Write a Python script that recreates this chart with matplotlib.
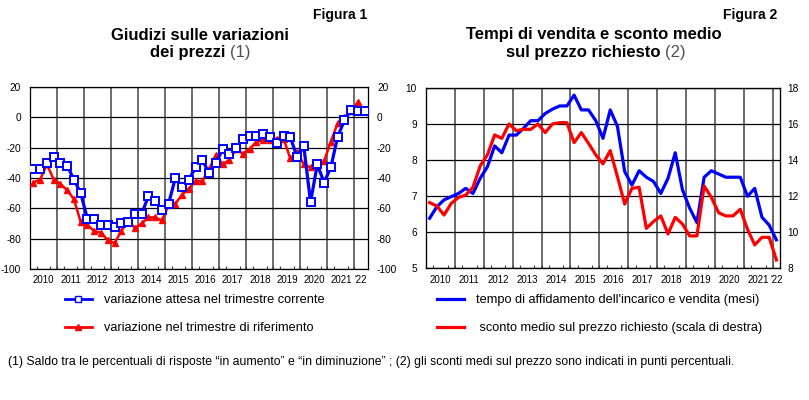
import numpy as np
import matplotlib
matplotlib.use('Agg')
import matplotlib.pyplot as plt
from matplotlib.lines import Line2D

plt.rcParams['font.family'] = ['Liberation Sans', 'DejaVu Sans']
plt.rcParams['axes.unicode_minus'] = False

years = ['2010', '2011', '2012', '2013', '2014', '2015', '2016', '2017',
         '2018', '2019', '2020', '2021', "'22"]

# Figura 1: saldo risposte (quarterly, from 2010 Q1)
attesa = [-34, -34, -30, -26, -30, -32, -41, -50, -67, -67,
          -71, -71, -72, -70, -69, -64, -64, -52, -55, -61,
          -57, -40, -46, -41, -33, -28, -37, -30, -21, -24,
          -20, -14, -12, -12, -11, -13, -17, -12, -13, -26,
          -19, -56, -31, -43, -33, -13, -2, 5, 4, 4]
riferimento = [-43, -41, -31, -41, -44, -48, -54, -69, -71, -75,
               -76, -81, -83, -75, -68, -73, -70, -66, -66, -68,
               -58, -57, -51, -47, -42, -42, -34, -25, -31, -28,
               -21, -24, -21, -16, -15, -15, -14, -14, -27, -23,
               -31, -33, -31, -29, -16, -4, 0, 4, 10]

# Figura 2: tempi di vendita (mesi) e sconto medio (%)
tempo = [6.39, 6.71, 6.90, 6.99, 7.08, 7.22, 7.08, 7.50, 7.82, 8.40,
         8.21, 8.70, 8.70, 8.89, 9.10, 9.10, 9.30, 9.42, 9.51, 9.51,
         9.81, 9.40, 9.40, 9.10, 8.61, 9.40, 8.94, 7.69, 7.31, 7.71,
         7.53, 7.41, 7.08, 7.50, 8.21, 7.18, 6.67, 6.27, 7.53, 7.71,
         7.62, 7.53, 7.53, 7.53, 7.00, 7.22, 6.42, 6.20, 5.79]
sconto = [11.65, 11.46, 10.96, 11.61, 11.94, 12.07, 12.50, 13.69, 14.30, 15.41,
          15.22, 16.02, 15.65, 15.72, 15.72, 16.02, 15.54, 16.02, 16.09, 16.09,
          14.98, 15.54, 14.94, 14.30, 13.80, 14.54, 13.09, 11.57, 12.44, 12.50,
          10.22, 10.60, 10.91, 9.91, 10.83, 10.46, 9.80, 9.80, 12.57, 11.94,
          11.09, 10.91, 10.91, 11.28, 10.17, 9.30, 9.72, 9.72, 8.46]

BLUE = '#0000ff'
RED = '#ff0000'


def qx(vals):
    # quarter centres, starting from 2010 Q1
    return 2010 + (np.arange(len(vals)) + 0.5) / 4


def setup(ax, xmax):
    ax.set_xlim(2010, xmax)
    for yr in range(2011, 2023):
        ax.axvline(yr, color='#606060', lw=1.3, zorder=0)
    ax.yaxis.grid(True, color='black', lw=0.9)
    ax.set_axisbelow(True)
    ax.set_xticks([2010.5 + i for i in range(12)] + [(2022 + xmax) / 2])
    ax.set_xticklabels(years)
    ax.set_xticks(np.arange(2010.25, xmax, 0.25), minor=True)
    ax.tick_params(axis='x', which='major', length=0, labelsize=7, pad=4.5)
    ax.tick_params(axis='x', which='minor', direction='in', length=2.2,
                   width=0.8, color='#404040')
    ax.tick_params(axis='y', length=0, labelsize=7.3)
    for s in ax.spines.values():
        s.set_linewidth(0.9)


fig = plt.figure(figsize=(8.09, 4.0), dpi=100)

# ---- Figura 1
ax1 = fig.add_axes([30 / 809, 1 - 269 / 400, 338 / 809, 182 / 400])
setup(ax1, 2022.5)
ax1.set_ylim(-100, 20)
ax1.set_yticks(range(-100, 21, 20))
ax1.tick_params(axis='y', labelleft=True, labelright=True, pad=6.5)
ax1.plot(qx(riferimento), riferimento, color=RED, lw=1.8, marker='^',
         ms=4.5, mec=RED, mfc=RED, zorder=3)
ax1.plot(qx(attesa), attesa, color=BLUE, lw=2.3, marker='s', ms=5.5,
         mfc='white', mec=BLUE, mew=1.4, zorder=4)

# ---- Figura 2
ax2 = fig.add_axes([426 / 809, 1 - 268.3 / 400, 354 / 809, 180 / 400])
setup(ax2, 2022.25)
ax2.set_ylim(5, 10)
ax2.set_yticks(range(5, 11))
ax2.tick_params(axis='y', pad=6.5)
ax2r = ax2.twinx()
ax2r.set_ylim(8, 18)
ax2r.set_yticks(range(8, 19, 2))
ax2r.tick_params(axis='y', length=0, labelsize=7.3, pad=5.5)
ax2.plot(qx(tempo), tempo, color=BLUE, lw=2.3, zorder=4)
ax2r.plot(qx(sconto), sconto, color=RED, lw=2.3, zorder=3)

# ---- titles
fig.text(367 / 809, 1 - 15 / 400, 'Figura 1', ha='right', va='center',
         fontsize=10, fontweight='bold')
fig.text(777 / 809, 1 - 15 / 400, 'Figura 2', ha='right', va='center',
         fontsize=10, fontweight='bold')
fig.text(200 / 809, 1 - 35 / 400, 'Giudizi sulle variazioni', ha='center',
         va='center', fontsize=12, fontweight='bold')
fig.text(150 / 809, 1 - 52 / 400, 'dei prezzi', ha='left',
         va='center', fontsize=12, fontweight='bold')
fig.text(230 / 809, 1 - 52 / 400, '(1)', ha='left',
         va='center', fontsize=12, color='#505050')
fig.text(594 / 809, 1 - 35 / 400, 'Tempi di vendita e sconto medio', ha='center',
         va='center', fontsize=12, fontweight='bold')
fig.text(506 / 809, 1 - 52 / 400, 'sul prezzo richiesto', ha='left',
         va='center', fontsize=12, fontweight='bold')
fig.text(665 / 809, 1 - 52 / 400, '(2)', ha='left',
         va='center', fontsize=12, color='#505050')

# ---- legends
h1 = [Line2D([], [], color=BLUE, lw=2, marker='s', ms=4, mfc='white', mec=BLUE),
      Line2D([], [], color=RED, lw=2, marker='^', ms=4, mfc=RED, mec=RED)]
fig.legend(h1, ['variazione attesa nel trimestre corrente',
                'variazione nel trimestre di riferimento'],
           loc='upper left', bbox_to_anchor=(65 / 809, 1 - 294 / 400),
           frameon=False, fontsize=9.2, handlelength=2.1, handletextpad=0.95,
           labelspacing=1.25, borderpad=0, borderaxespad=0)
h2 = [Line2D([], [], color=BLUE, lw=2.3), Line2D([], [], color=RED, lw=2.3)]
fig.legend(h2, ["tempo di affidamento dell'incarico e vendita (mesi)",
                ' sconto medio sul prezzo richiesto (scala di destra)'],
           loc='upper left', bbox_to_anchor=(437 / 809, 1 - 294 / 400),
           frameon=False, fontsize=9.2, handlelength=2.1, handletextpad=0.95,
           labelspacing=1.25, borderpad=0, borderaxespad=0)

fig.text(8 / 809, 1 - 362 / 400,
         '(1) Saldo tra le percentuali di risposte \u201cin aumento\u201d e '
         '\u201cin diminuzione\u201d ; (2) gli sconti medi sul prezzo sono '
         'indicati in punti percentuali.', ha='left', va='center', fontsize=8.8)

fig.savefig('out.png', dpi=100)
